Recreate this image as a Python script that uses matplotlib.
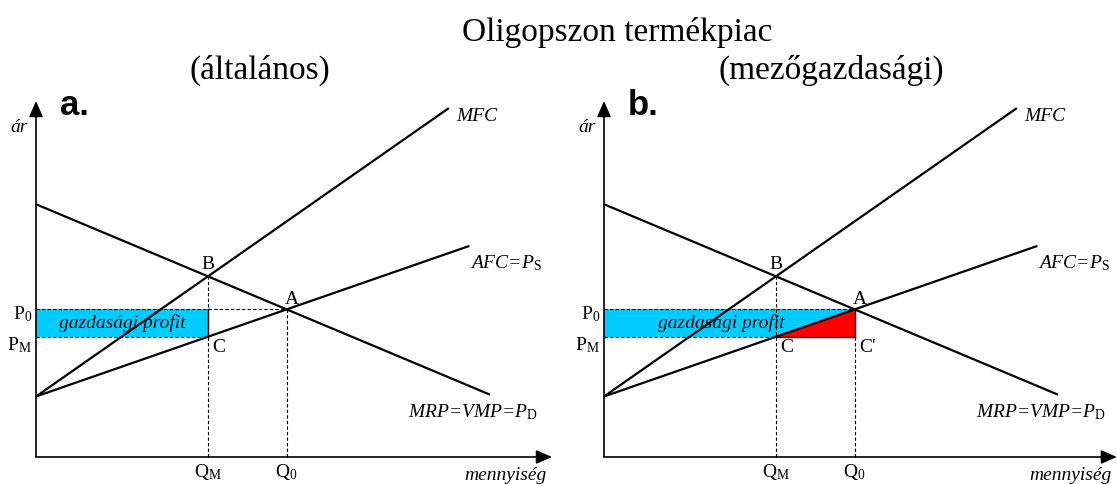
import matplotlib
matplotlib.use("Agg")
import matplotlib.pyplot as plt

plt.rcParams["font.family"] = ["Liberation Serif", "DejaVu Serif"]
plt.rcParams["mathtext.fontset"] = "custom"
plt.rcParams["mathtext.rm"] = "Liberation Serif"
plt.rcParams["mathtext.it"] = "Liberation Serif:italic"
plt.rcParams["mathtext.bf"] = "Liberation Serif:bold"

W, H = 1117, 485

# curve end points as (quantity, price) in panel units
DEMAND_Q = [0.0, 8.8]
DEMAND_P = [7.1, 1.75]
AFC_Q = [0.0, 8.4]
AFC_P = [1.7, 5.93]
MFC_Q = [0.0, 8.0]
MFC_P = [1.7, 9.8]

TITLE = "Oligopszon termékpiac"
SUBTITLES = ["(általános)", "(mezőgazdasági)"]
PANEL_TAGS = ["a.", "b."]
CURVE_LABELS = ["MFC", "AFC=P$_\\mathrm{S}$", "MRP=VMP=P$_\\mathrm{D}$"]
AXIS_LABELS = ["ár", "mennyiség"]
PROFIT_LABEL = "gazdasági profit"

BLUE = "#00ccff"
RED = "#ff0000"
FS = 14


def line_at(qs, ps, q):
    slope = (ps[1] - ps[0]) / (qs[1] - qs[0])
    return ps[0] + slope * (q - qs[0])


def crossing(q1, p1, q2, p2):
    s1 = (p1[1] - p1[0]) / (q1[1] - q1[0])
    s2 = (p2[1] - p2[0]) / (q2[1] - q2[0])
    q = (p2[0] - p1[0]) / (s1 - s2)
    return q, p1[0] + s1 * q


QM, PB = crossing(DEMAND_Q, DEMAND_P, MFC_Q, MFC_P)
Q0, P0 = crossing(DEMAND_Q, DEMAND_P, AFC_Q, AFC_P)
PM = line_at(AFC_Q, AFC_P, QM)

fig = plt.figure(figsize=(W / 100, H / 100), dpi=100)
fig.text(617 / W, 1 - 33 / H, TITLE, ha="center", va="center", fontsize=24)
fig.text(260 / W, 1 - 70 / H, SUBTITLES[0], ha="center", va="center", fontsize=24)
fig.text(831 / W, 1 - 70 / H, SUBTITLES[1], ha="center", va="center", fontsize=24)

origins = [(36, 458), (604, 458)]
x_tips = [10.0, 9.94]
dash = (0, (3, 2))

for i, (ox, oy) in enumerate(origins):
    ax = fig.add_axes([ox / W, (H - oy) / H, 516 / W, 356 / H])
    ax.set_xlim(0, 10)
    ax.set_ylim(0, 10)
    ax.axis("off")

    arrow = dict(arrowstyle="-|>,head_length=0.8,head_width=0.35", lw=1.2,
                 color="black", shrinkA=0, shrinkB=0, mutation_scale=12)
    ax.annotate("", xy=(x_tips[i], 0), xytext=(0, 0), arrowprops=arrow,
                annotation_clip=False)
    ax.annotate("", xy=(0, 10), xytext=(0, 0), arrowprops=arrow,
                annotation_clip=False)

    # profit area
    right = QM if i == 0 else Q0
    ax.fill_between([0, right], PM, P0, color=BLUE, lw=0, zorder=1)
    if i == 1:
        ax.fill([QM, Q0, Q0], [PM, PM, P0], color=RED, lw=0, zorder=2)

    # guide lines
    ax.plot([0, Q0], [P0, P0], color="black", lw=0.8, ls=dash, zorder=3)
    ax.plot([0, QM], [PM, PM], color="black", lw=0.8, ls=dash, zorder=3)
    ax.plot([QM, QM], [0, PB], color="black", lw=0.8, ls=dash, zorder=3)
    if i == 0:
        ax.plot([Q0, Q0], [0, P0], color="black", lw=0.8, ls=dash, zorder=3)
        ax.plot([QM, QM], [PM, P0], color="black", lw=1.0, zorder=3)
    else:
        ax.plot([Q0, Q0], [0, PM], color="black", lw=0.8, ls=dash, zorder=3)
        ax.plot([QM, Q0], [PM, PM], color="black", lw=1.0, zorder=3)
        ax.plot([Q0, Q0], [PM, P0], color="black", lw=1.0, zorder=3)

    # curves
    for qs, ps in [(DEMAND_Q, DEMAND_P), (AFC_Q, AFC_P), (MFC_Q, MFC_P)]:
        ax.plot(qs, ps, color="black", lw=1.6, zorder=4, solid_capstyle="butt")

    # texts
    ax.text(0.47, 9.63, PANEL_TAGS[i], family="Liberation Sans",
            fontweight="bold", fontsize=25, ha="left", va="baseline")
    ax.text(-0.16, 9.27, AXIS_LABELS[0], style="italic", fontsize=FS,
            ha="right", va="center")
    ax.text(x_tips[i] - 0.1, -0.48, AXIS_LABELS[1], style="italic",
            fontsize=FS, ha="right", va="center", clip_on=False)
    ax.text(MFC_Q[1] + 0.14, MFC_P[1] - 0.22, CURVE_LABELS[0], style="italic",
            fontsize=FS, ha="left", va="center")
    ax.text(AFC_Q[1] + 0.02, AFC_P[1] - 0.45, CURVE_LABELS[1], style="italic",
            fontsize=FS, ha="left", va="center")
    ax.text(9.72, 1.3, CURVE_LABELS[2], style="italic", fontsize=FS,
            ha="right", va="center")

    profit_x = QM / 2 if i == 0 else 2.27
    ax.text(profit_x, (P0 + PM) / 2 + 0.04, PROFIT_LABEL, style="italic",
            fontsize=FS, ha="center", va="center", zorder=3)

    ax.annotate("B", (QM, PB), xytext=(0, 3), textcoords="offset points",
                ha="center", va="bottom", fontsize=FS)
    ax.annotate("A", (Q0, P0), xytext=(4, 2), textcoords="offset points",
                ha="center", va="bottom", fontsize=FS)
    ax.annotate("C", (QM, PM), xytext=(3, -1), textcoords="offset points",
                ha="left", va="top", fontsize=FS)
    if i == 1:
        ax.annotate("C'", (Q0, PM), xytext=(3, -1), textcoords="offset points",
                    ha="left", va="top", fontsize=FS)

    ax.annotate("P$_0$", (0, P0), xytext=(-3, -3), textcoords="offset points",
                ha="right", va="center", fontsize=FS, annotation_clip=False)
    ax.annotate("P$_\\mathrm{M}$", (0, PM), xytext=(-3, -5),
                textcoords="offset points", ha="right", va="center",
                fontsize=FS, annotation_clip=False)
    ax.annotate("Q$_\\mathrm{M}$", (QM, 0), xytext=(0, -3),
                textcoords="offset points", ha="center", va="top",
                fontsize=FS, annotation_clip=False)
    ax.annotate("Q$_0$", (Q0, 0), xytext=(0, -3), textcoords="offset points",
                ha="center", va="top", fontsize=FS, annotation_clip=False)

fig.savefig("out.png", dpi=100)
